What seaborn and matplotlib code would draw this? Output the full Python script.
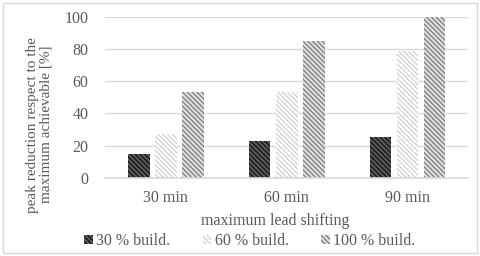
import matplotlib
matplotlib.use("Agg")
import matplotlib.pyplot as plt
import seaborn as sns
import pandas as pd
from matplotlib.patches import Rectangle

categories = ["30 min", "60 min", "90 min"]
series_names = ["30 % build.", "60 % build.", "100 % build."]
vals_30 = [15, 23, 25.5]
vals_60 = [27, 53, 79]
vals_100 = [53, 85, 100]
y_ticks = [0, 20, 40, 60, 80, 100]

rows = []
for name, vals in zip(series_names, [vals_30, vals_60, vals_100]):
    for c, v in zip(categories, vals):
        rows.append({"cat": c, "series": name, "value": v})
df = pd.DataFrame(rows)

sns.set_theme(style="white")
plt.rcParams["font.family"] = ["Liberation Serif", "DejaVu Serif"]
plt.rcParams["hatch.linewidth"] = 0.9

txt = "#595959"
fs = 11.5
fig = plt.figure(figsize=(4.8, 2.56), dpi=100)
ax = fig.add_axes([0.219, 0.305, 0.756, 0.63])

face = {"30 % build.": "#5a5a5a", "60 % build.": "#ffffff", "100 % build.": "#e0e0e0"}
hatchc = {"30 % build.": "#111111", "60 % build.": "#d0d0d0", "100 % build.": "#7a7a7a"}
hatch = "\\\\\\\\\\\\\\"

sns.barplot(data=df, x="cat", y="value", hue="series", order=categories,
            hue_order=series_names, ax=ax, width=0.67, gap=0.19,
            palette=face, legend=False)

for cont, name in zip(ax.containers, series_names):
    for p in cont:
        p.set_facecolor(face[name])
        p.set_edgecolor(hatchc[name])
        p.set_linewidth(0)
        p.set_hatch(hatch)

ax.set_ylim(0, 100)
ax.set_xlim(-0.5, 2.5)
ax.set_yticks(y_ticks)
ax.yaxis.grid(True, color="#d9d9d9", linewidth=1)
ax.set_axisbelow(True)
for s in ["top", "right", "left"]:
    ax.spines[s].set_visible(False)
ax.spines["bottom"].set_color("#d9d9d9")
ax.tick_params(axis="both", length=0, labelsize=fs, colors=txt)
ax.tick_params(axis="x", pad=9)
ax.tick_params(axis="y", pad=12)
ax.set_xlabel("maximum lead shifting", fontsize=fs, color=txt)
ax.xaxis.set_label_coords(0.468, -0.215)
ax.set_ylabel("peak reduction respect to the\nmaximum achievable [%]", fontsize=11,
              color=txt, linespacing=1.0)
ax.yaxis.set_label_coords(-0.146, 0.33)

handles = [Rectangle((0, 0), 1, 1, facecolor=face[n], edgecolor=hatchc[n],
                     linewidth=0, hatch=hatch) for n in series_names]
fig.legend(handles, series_names, loc="center", bbox_to_anchor=(0.52, 0.058), ncol=3,
           frameon=False, fontsize=fs, labelcolor=txt, handlelength=0.55,
           handleheight=0.55, handletextpad=0.2, columnspacing=2.05)

fig.patches.append(Rectangle((0.006, 0.01), 0.988, 0.98, transform=fig.transFigure,
                             fill=False, edgecolor="#d9d9d9", linewidth=1))
fig.savefig("out.png", dpi=100)
